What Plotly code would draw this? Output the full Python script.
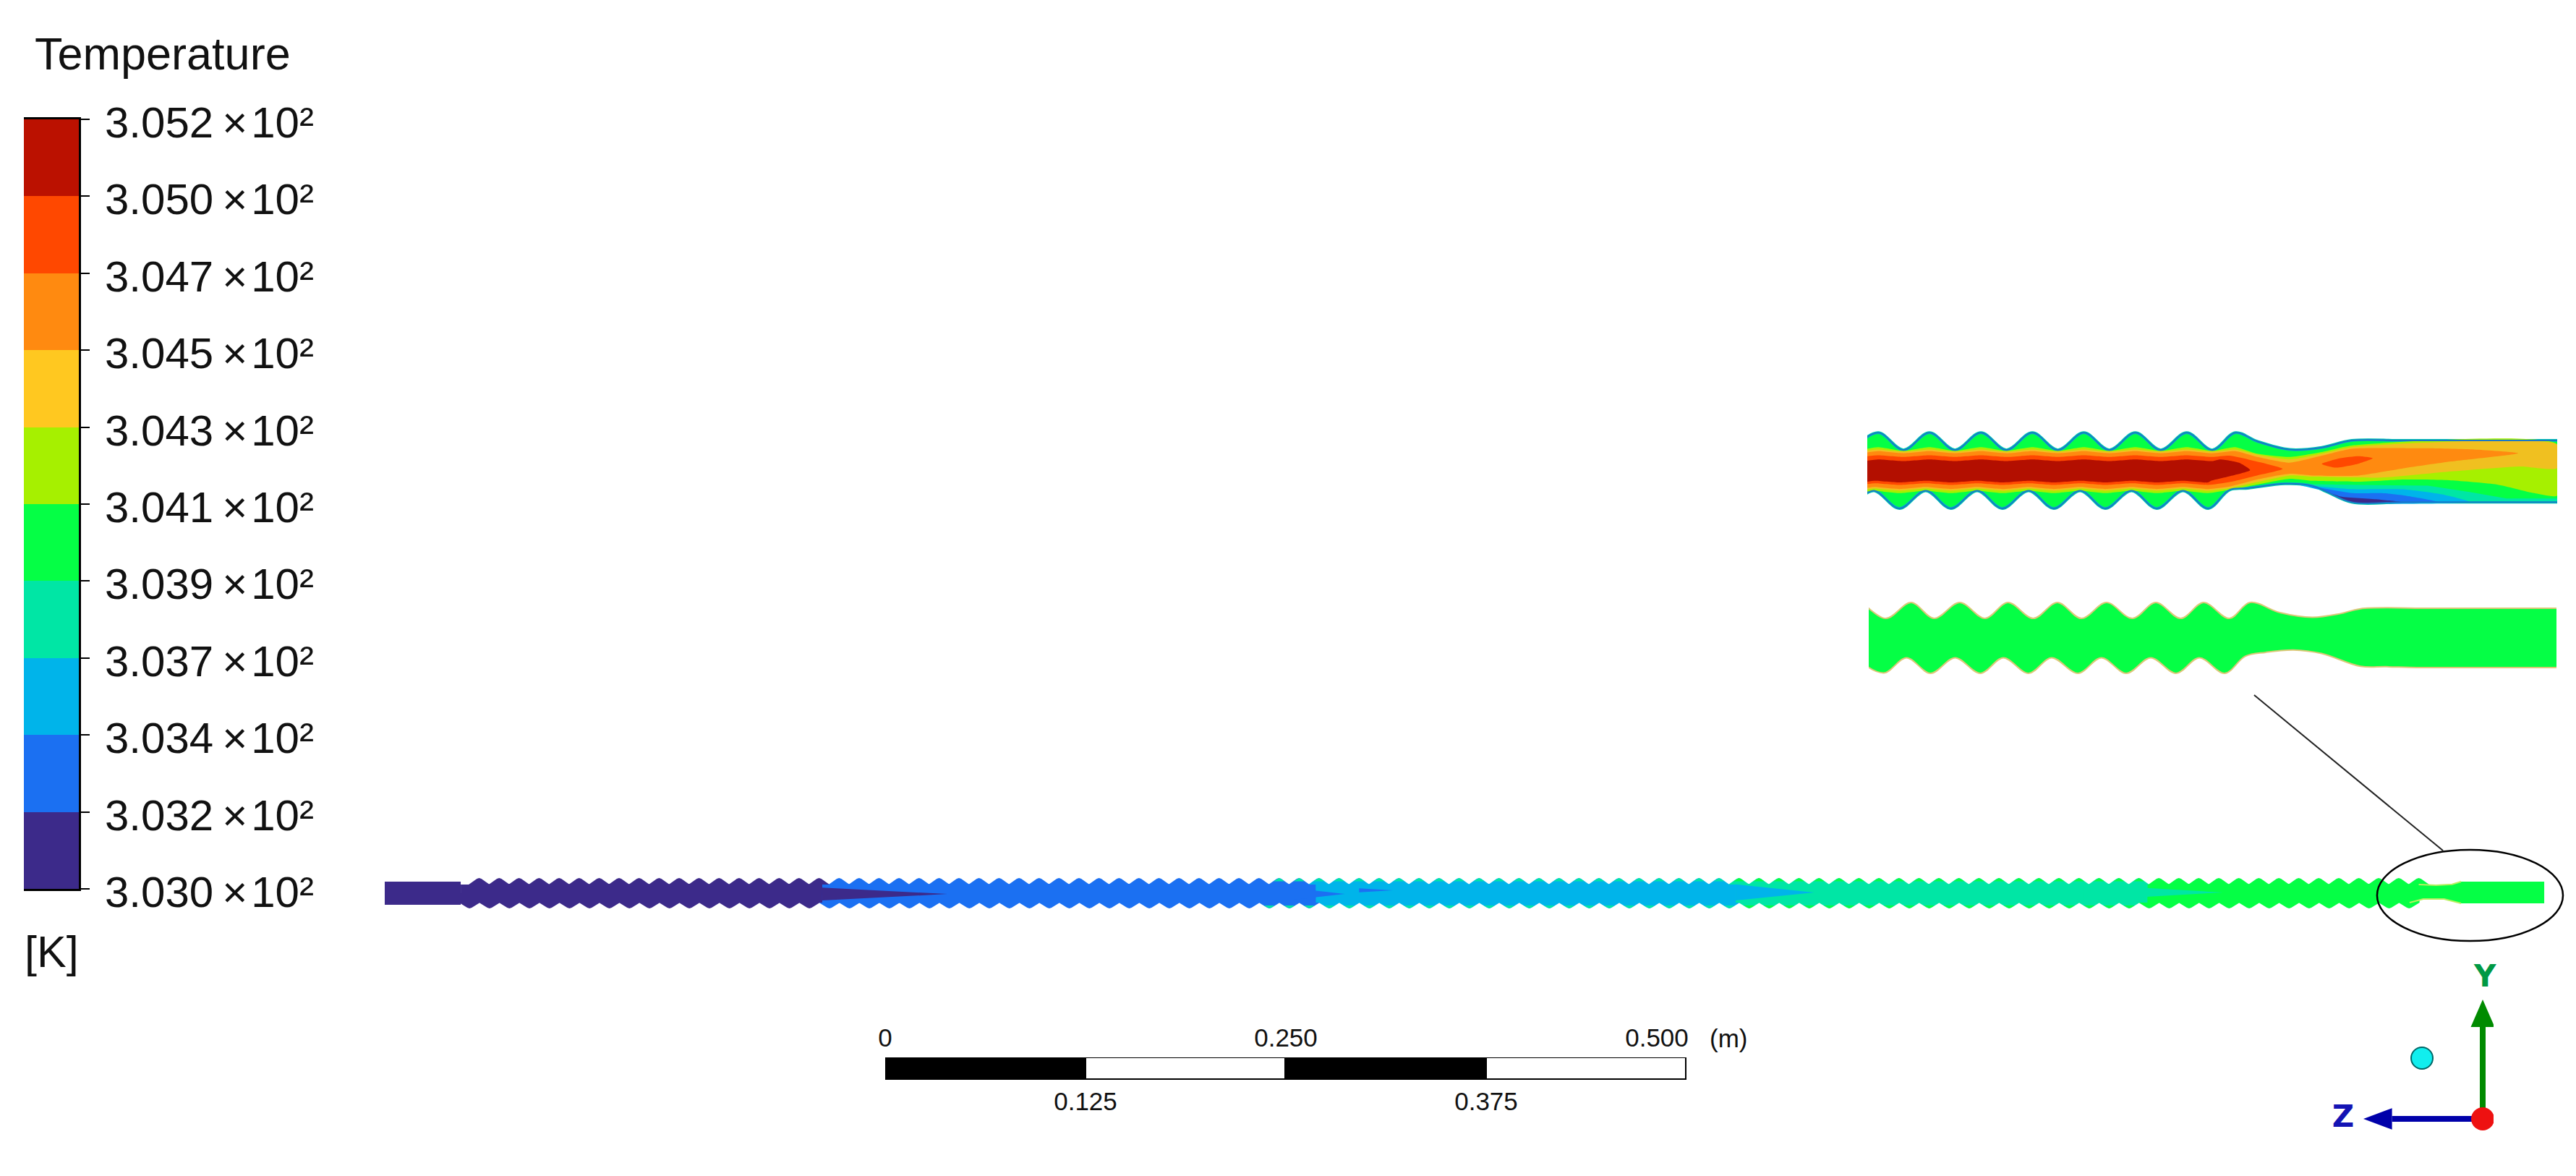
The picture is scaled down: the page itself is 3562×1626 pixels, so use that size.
import plotly.graph_objects as go

W = 3562
H = 1626

# legend bar, bottom to top
level_colors = ["#3C2A8A", "#1B70F2", "#00B4EA", "#00E6A5", "#05FF45",
                "#A6F000", "#FFC820", "#FF8A10", "#FF4800", "#BB1100"]
level_index = [0, 1, 2, 3, 4, 5, 6, 7, 8, 9]
temp_ticks = [0, 1, 2, 3, 4, 5, 6, 7, 8, 9, 10]
temp_labels = ["3.030", "3.032", "3.034", "3.037", "3.039", "3.041",
               "3.043", "3.045", "3.047", "3.050", "3.052"]

# full tube, metres along the axis from the inlet
crest_top = [.0589, .0714, .0838, .0963, .1088, .1213, .1338, .1462, .1587, .1712, .1837, .1961, .2086, .2211,
             .2336, .2461, .2585, .2710, .2835, .2960, .3084, .3209, .3334, .3459, .3583, .3708, .3833, .3958,
             .4083, .4207, .4332, .4457, .4582, .4706, .4831, .4956, .5081, .5206, .5330, .5455, .5580, .5705,
             .5829, .5954, .6079, .6204, .6328, .6453, .6578, .6703, .6828, .6952, .7077, .7202, .7327, .7451,
             .7576, .7701, .7826, .7951, .8075, .8200, .8325, .8450, .8574, .8699, .8824, .8949, .9074, .9198,
             .9323, .9448, .9573, .9697, .9822, .9947, 1.0072, 1.0196, 1.0321, 1.0446, 1.0571, 1.0696, 1.0820,
             1.0945, 1.1070, 1.1195, 1.1319, 1.1444, 1.1569, 1.1694, 1.1819, 1.1943, 1.2068, 1.2193, 1.2318,
             1.2442, 1.2567, 1.2692]
crest_bot = [.0529, .0654, .0778, .0903, .1028, .1153, .1278, .1402, .1527, .1652, .1777, .1901, .2026, .2151,
             .2276, .2401, .2525, .2650, .2775, .2900, .3024, .3149, .3274, .3399, .3523, .3648, .3773, .3898,
             .4023, .4147, .4272, .4397, .4522, .4646, .4771, .4896, .5021, .5146, .5270, .5395, .5520, .5645,
             .5769, .5894, .6019, .6144, .6268, .6393, .6518, .6643, .6768, .6892, .7017, .7142, .7267, .7391,
             .7516, .7641, .7766, .7891, .8015, .8140, .8265, .8390, .8514, .8639, .8764, .8889, .9014, .9138,
             .9263, .9388, .9513, .9637, .9762, .9887, 1.0012, 1.0136, 1.0261, 1.0386, 1.0511, 1.0636, 1.0760,
             1.0885, 1.1010, 1.1135, 1.1259, 1.1384, 1.1509, 1.1634, 1.1759, 1.1883, 1.2008, 1.2133, 1.2258,
             1.2382, 1.2507, 1.2632]
core_zone_end = [.273, .581, .843, 1.10, 1.2692]
core_zone_level = [0, 1, 2, 3, 4]
tip_zone_end = [.273, .55, .843, 1.30]
tip_zone_level = [0, 1, 3, 4]
# wedge = start z, tip z, half width, tip y, level
wedge_start = [.273, .555, .608, .843, 1.06]
wedge_tip = [.351, .599, .629, .892, 1.147]
wedge_half = [.0040, .0050, .0012, .0050, .0050]
wedge_mid = [-.0005, -.0005, .0018, .0005, .0005]
wedge_level = [0, 1, 1, 2, 3]
tail_z = [1.2692, 1.28, 1.29, 1.2956, 1.3475, 1.3475, 1.2956, 1.285, 1.272, 1.2635]
tail_y = [.0054, .0050, .0055, .0072, .0072, -.0063, -.0063, -.0036, -.0036, -.0059]

# upper inset, mm
wall1_z = [-3, 2.6, 8.8, 15.1, 21.3, 27.6, 33.8, 40.1, 46.3, 52.6, 58.8, 65.1, 71.3, 77.6, 83.8, 89.4, 94.7, 102.6,
           110.4, 117.7, 130, 150, 169, 190, 190, 169, 150, 130, 117.7, 111.5, 108.2, 101.5, 92.5, 88.0, 82.8, 76.7,
           70.3, 64.2, 57.8, 51.7, 45.3, 39.2, 32.8, 26.7, 20.3, 14.2, 7.8, 1.7, -3, -3]
wall1_y = [4.6, 9.1, 4.9, 9.1, 4.9, 9.1, 4.9, 9.1, 4.9, 9.1, 4.9, 9.1, 4.9, 9.1, 4.9, 9.1, 7.0, 5.0,
           5.5, 7.2, 7.2, 7.2, 7.2, 7.2, -7.8, -7.8, -7.8, -7.8, -7.8, -5.2, -3.8, -3.3, -4.4, -4.8, -9.3, -5.0,
           -9.3, -5.0, -9.3, -5.0, -9.3, -5.0, -9.3, -5.0, -9.3, -5.0, -9.3, -5.0, -6.8, 4.6]
band_top_z = [0, 2.6, 8.8, 15.1, 21.3, 27.6, 33.8, 40.1, 46.3, 52.6, 58.8, 65.1, 71.3, 77.6, 83.8]
band_bot_z = [0, 1.7, 7.8, 14.2, 20.3, 26.7, 32.8, 39.2, 45.3, 51.7, 57.8, 64.2, 70.3, 76.7, 82.8]

yg_top = [5.2, 5.6, 4.7, 5.6, 4.7, 5.6, 4.7, 5.6, 4.7, 5.6, 4.7, 5.6, 4.7, 5.6, 4.7]
yg_bot = [-5.2, -5.0, -5.6, -5.0, -5.6, -5.0, -5.6, -5.0, -5.6, -5.0, -5.6, -5.0, -5.6, -5.0, -5.6]
yg_tail_z = [89.4, 94.7, 102.6, 110.4, 117.7, 167.6, 167.6, 162.0, 153.0, 141.8, 130.6, 119.4, 108.2, 102.6, 94.7, 88.0]
yg_tail_y = [5.6, 4.0, 3.2, 4.4, 6.0, 6.3, -6.2, -5.6, -3.5, -2.5, -2.3, -2.8, -2.6, -2.1, -3.5, -4.8]

yellow_top = [4.8, 5.0, 4.5, 5.0, 4.5, 5.0, 4.5, 5.0, 4.5, 5.0, 4.5, 5.0, 4.5, 5.0, 4.5]
yellow_bot = [-4.7, -4.5, -5.0, -4.5, -5.0, -4.5, -5.0, -4.5, -5.0, -4.5, -5.0, -4.5, -5.0, -4.5, -5.0]
yellow_tail_z = [89.4, 94.7, 102.6, 110.4, 117.7, 167.6, 167.6, 158.6, 141.8, 125.0, 108.2, 102.6, 94.7, 88.0]
yellow_tail_y = [5.0, 3.8, 2.6, 4.0, 5.6, 6.2, 0.5, 0.9, -0.3, -1.8, -1.6, -1.3, -2.9, -4.4]

orange_top = [4.3, 4.6, 4.1, 4.6, 4.1, 4.6, 4.1, 4.6, 4.1, 4.6, 4.1, 4.6, 4.1, 4.6, 4.1]
orange_bot = [-4.3, -4.1, -4.6, -4.1, -4.6, -4.1, -4.6, -4.1, -4.6, -4.1, -4.6, -4.1, -4.6, -4.1, -4.6]
orange_tail_z = [89.4, 94.7, 102.6, 110.4, 117.7, 136.2, 147.4, 158.1, 141.8, 130.6, 119.4, 108.2, 102.6, 94.7, 88.0]
orange_tail_y = [4.6, 3.2, 1.8, 3.5, 5.2, 5.3, 5.0, 4.1, 2.1, 0.5, -1.3, -1.3, -0.9, -2.3, -4.0]

red_top = [3.4, 3.6, 3.2, 3.6, 3.2, 3.6, 3.2, 3.6, 3.2, 3.6, 3.2, 3.6, 3.2, 3.6, 3.2]
red_bot = [-3.4, -3.2, -3.6, -3.2, -3.6, -3.2, -3.6, -3.2, -3.6, -3.2, -3.6, -3.2, -3.6, -3.2, -3.6]
red_tail_z = [88.0, 92.5, 100.9, 94.7, 88.0]
red_tail_y = [3.5, 2.6, 0.3, -1.3, -2.9]

dark_top = [2.3, 2.6, 2.2, 2.6, 2.2, 2.6, 2.2, 2.6, 2.2, 2.6, 2.2, 2.6, 2.2, 2.6, 2.2]
dark_bot = [-2.8, -2.6, -3.0, -2.6, -3.0, -2.6, -3.0, -2.6, -3.0, -2.6, -3.0, -2.6, -3.0, -2.6, -3.0]
dark_tail_z = [85.8, 90.3, 93.0, 88.0, 83.5]
dark_tail_y = [2.6, 1.8, 0.0, -1.5, -2.6]

blob_z = [110.4, 114.9, 119.4, 122.8, 119.4, 113.8, 110.4]
blob_y = [1.5, 2.9, 3.4, 2.9, 1.6, 0.6, 1.5]
teal_z = [103.7, 117.2, 136.2, 146.3, 155.3, 167.6, 167.6, 117.7, 111.5, 108.2, 103.7]
teal_y = [-3.4, -3.6, -3.8, -5.3, -6.9, -6.9, -7.8, -7.8, -5.2, -3.8, -3.4]
cyan_z = [105.0, 117.7, 130.6, 139.6, 146.3, 117.7, 111.5, 105.0]
cyan_y = [-3.6, -4.6, -4.7, -5.9, -7.7, -7.8, -5.2, -3.6]
blue_z = [107.0, 117.7, 125.0, 130.6, 138.5, 117.7, 111.5, 107.0]
blue_y = [-3.8, -5.6, -5.6, -6.2, -7.7, -7.8, -5.2, -3.8]
indigo_z = [110.0, 115.0, 124.0, 130.0, 117.7, 110.0]
indigo_y = [-4.6, -6.4, -7.1, -7.8, -7.8, -4.6]

# lower inset, mm
wall2_z = [-3, 4.4, 10.9, 16.8, 23.4, 29.9, 35.8, 42.3, 48.5, 54.7, 61.1, 67.8, 73.8, 80.2, 86.1, 92.7, 98.0, 105.7,
           114.0, 121.1, 126.4, 145, 165, 178, 200, 200, 178, 165, 150, 141, 133, 126.4, 116.4, 109.2, 102.1, 96.8,
           91.5, 85.0, 79.0, 72.5, 66.2, 59.8, 53.8, 47.0, 41.1, 34.6, 28.7, 22.2, 15.9, 9.7, 3.8, -3, -3]
wall2_y = [9.1, 5.0, 9.1, 5.0, 9.1, 5.0, 9.1, 5.0, 9.1, 5.0, 9.1, 5.0, 9.1, 5.0, 9.1, 5.0, 9.1, 6.5,
           5.3, 6.2, 7.5, 7.6, 7.6, 7.6, 7.6, -7.6, -7.6, -7.6, -7.6, -7.6, -7.4, -7.3, -4.0, -3.1, -3.7, -4.7,
           -9.1, -5.1, -9.1, -5.1, -9.1, -5.1, -9.1, -5.1, -9.1, -5.1, -9.1, -5.1, -9.1, -5.1, -9.0, -4.5, 9.1]

# scale bar, metres
scale_top_vals = [0, 0.25, 0.4815]
scale_top_text = ["0", "0.250", "0.500"]
scale_bot_vals = [0.125, 0.375]
scale_bot_text = ["0.125", "0.375"]
black_seg = [0.0, 0.25]
white_seg = [0.125, 0.375]
seg_len = [0.125, 0.125]

# triad, unit axis vectors
y_shaft = [0, 0.77]
z_shaft = [0, -0.76]
y_head_x = [0, -0.1, 0.1, 0]
y_head_y = [1, 0.77, 0.77, 1]
z_head_x = [-1, -0.76, -0.76, -1]
z_head_y = [0, 0.09, -0.09, 0]


def level_at(z, ends, levels):
    for end, lev in zip(ends, levels):
        if z <= end:
            return lev
    return levels[-1]


def xdom(a, b):
    return [a / W, b / W]


def ydom(top, bottom):
    return [(H - bottom) / H, (H - top) / H]


fig = go.Figure()


def poly(xs, ys, color, xa="x", ya="y", smooth=False):
    line = dict(width=0, color=color)
    if smooth:
        line = dict(width=0, color=color, shape="spline", smoothing=0.55)
    fig.add_trace(go.Scatter(x=xs, y=ys, mode="lines", fill="toself", fillcolor=color, line=line,
                             xaxis=xa, yaxis=ya, showlegend=False, hoverinfo="skip"))


def stroke(xs, ys, color, width, xa="x", ya="y", smooth=False):
    line = dict(width=width, color=color)
    if smooth:
        line = dict(width=width, color=color, shape="spline", smoothing=1.0)
    fig.add_trace(go.Scatter(x=xs, y=ys, mode="lines", line=line,
                             xaxis=xa, yaxis=ya, showlegend=False, hoverinfo="skip"))


# ---- long tube
TOP_VALLEY, TOP_PEAK = .0054, .0095
BOT_VALLEY, BOT_PEAK = -.0059, -.0095
HALF_PITCH = .0065

groups = {}


def add_tooth(c, valley, peak, base_lev, tip_lev):
    b = groups.setdefault(base_lev, ([], []))
    b[0].extend([c - HALF_PITCH, c - .0014, c, c + .0014, c + HALF_PITCH, c + HALF_PITCH, c - HALF_PITCH, None])
    b[1].extend([valley, peak - (peak - valley) * .12, peak, peak - (peak - valley) * .12, valley, 0, 0, None])
    if tip_lev != base_lev:
        t = groups.setdefault((tip_lev, "tip"), ([], []))
        mid = valley + (peak - valley) * .5
        t[0].extend([c - .0034, c - .0012, c, c + .0012, c + .0034, None])
        t[1].extend([mid, peak - (peak - valley) * .12, peak, peak - (peak - valley) * .12, mid, None])


for c in crest_top:
    add_tooth(c, TOP_VALLEY, TOP_PEAK, level_at(c, core_zone_end, core_zone_level),
              level_at(c, tip_zone_end, tip_zone_level))
for c in crest_bot:
    add_tooth(c, BOT_VALLEY, BOT_PEAK, level_at(c, core_zone_end, core_zone_level),
              level_at(c, tip_zone_end, tip_zone_level))

for key in sorted(groups, key=lambda k: (isinstance(k, tuple), k if isinstance(k, int) else k[0])):
    lev = key if isinstance(key, int) else key[0]
    poly(groups[key][0], groups[key][1], level_colors[lev])

# inlet stub
poly([0, .0474, .0474, 0, 0], [.0072, .0072, -.0072, -.0072, .0072], level_colors[0])

start = .0474
for end, lev in zip(core_zone_end, core_zone_level):
    poly([start, end, end, start, start], [TOP_VALLEY, TOP_VALLEY, BOT_VALLEY, BOT_VALLEY, TOP_VALLEY],
         level_colors[lev])
    start = end

for z0, z1, half, mid, lev in zip(wedge_start, wedge_tip, wedge_half, wedge_mid, wedge_level):
    poly([z0, z1, z0, z0], [mid + half, mid, mid - half, mid + half], level_colors[lev])

poly(tail_z + tail_z[:1], tail_y + tail_y[:1], level_colors[4])
stroke(tail_z[:4], tail_y[:4], "#B8F060", 2)
stroke(tail_z[6:], tail_y[6:], "#B8F060", 2)

# leader line to the insets
stroke([1.1665, 1.2843], [.1236, .0266], "#222222", 2)

# ---- upper inset
fig.add_trace(go.Scatter(x=wall1_z, y=wall1_y, mode="lines", fill="toself", fillcolor=level_colors[4],
                         line=dict(width=4, color="#00C8B0", shape="spline", smoothing=1.0),
                         xaxis="x3", yaxis="y3", showlegend=False, hoverinfo="skip"))

poly(band_top_z + yg_tail_z + band_bot_z[::-1], yg_top + yg_tail_y + yg_bot[::-1], level_colors[5], "x3", "y3", True)
poly(band_top_z + yellow_tail_z + band_bot_z[::-1], yellow_top + yellow_tail_y + yellow_bot[::-1],
     "#F0C020", "x3", "y3", True)
poly(band_top_z + orange_tail_z + band_bot_z[::-1], orange_top + orange_tail_y + orange_bot[::-1],
     level_colors[7], "x3", "y3", True)
poly(band_top_z + red_tail_z + band_bot_z[::-1], red_top + red_tail_y + red_bot[::-1],
     level_colors[8], "x3", "y3", True)
poly(band_top_z + dark_tail_z + band_bot_z[::-1], dark_top + dark_tail_y + dark_bot[::-1],
     "#B30F00", "x3", "y3", True)
poly(blob_z, blob_y, level_colors[8], "x3", "y3", True)
poly(teal_z, teal_y, level_colors[3], "x3", "y3")
poly(cyan_z, cyan_y, level_colors[2], "x3", "y3", True)
poly(blue_z, blue_y, level_colors[1], "x3", "y3", True)
poly(indigo_z, indigo_y, level_colors[0], "x3", "y3", True)
stroke(wall1_z, wall1_y, "#1878C8", 2, "x3", "y3", True)

# ---- lower inset
fig.add_trace(go.Scatter(x=wall2_z, y=wall2_y, mode="lines", fill="toself", fillcolor=level_colors[4],
                         line=dict(width=2, color="#DCC878", shape="spline", smoothing=1.0),
                         xaxis="x4", yaxis="y4", showlegend=False, hoverinfo="skip"))

# ---- temperature legend
fig.add_trace(go.Bar(x=["T"] * 10, y=[1] * 10, base=level_index, marker=dict(color=level_colors, line=dict(width=0)),
                     width=1, xaxis="x2", yaxis="y2", showlegend=False, hoverinfo="skip"))

# ---- triad
stroke([0, 0], y_shaft, "#008B00", 8, "x5", "y5")
stroke(z_shaft, [0, 0], "#0000AA", 8, "x5", "y5")
poly(y_head_x, y_head_y, "#008B00", "x5", "y5")
poly(z_head_x, z_head_y, "#0000AA", "x5", "y5")
fig.add_trace(go.Scatter(x=[0, -0.509], y=[0, 0.509], mode="markers",
                         marker=dict(size=[32, 30], color=["#EE1111", "#11EEEE"], opacity=1,
                                     line=dict(width=[0, 2], color="#006666")),
                         xaxis="x5", yaxis="y5", showlegend=False, hoverinfo="skip"))
fig.add_trace(go.Scatter(x=[0.02, -1.17], y=[1.175, 0], mode="text", text=["Y", "Z"], cliponaxis=False,
                         textfont=dict(family="DejaVu Sans", size=42, weight="bold", color=["#009944", "#1414B4"]),
                         xaxis="x5", yaxis="y5", showlegend=False, hoverinfo="skip"))

# ---- scale bar
fig.add_trace(go.Bar(y=[0, 0], x=seg_len, base=black_seg, orientation="h", width=1,
                     marker=dict(color="black", line=dict(width=3, color="black")),
                     xaxis="x6", yaxis="y6", showlegend=False, hoverinfo="skip"))
fig.add_trace(go.Bar(y=[0, 0], x=seg_len, base=white_seg, orientation="h", width=1,
                     marker=dict(color="white", line=dict(width=3, color="black")),
                     xaxis="x7", yaxis="y6", showlegend=False, hoverinfo="skip"))

hidden = dict(visible=False, fixedrange=True)
font = "Liberation Sans"


def label(text, px, py, size, anchor="left"):
    fig.add_annotation(text=text, x=px / W, y=1 - py / H, xref="paper", yref="paper", showarrow=False,
                       xanchor=anchor, yanchor="middle", font=dict(family=font, size=size, color="#111111"))


label("Temperature", 46, 74, 63)
label("[K]", 32, 1316, 61)
label("(m)", 2362, 1435, 35)

fig.add_shape(type="circle", xref="x", yref="y", x0=1.2432, x1=1.3592, y0=-.0298, y1=.0271,
              line=dict(color="black", width=2.5))

fig.update_layout(
    width=W, height=H, margin=dict(l=0, r=0, t=0, b=0, pad=0, autoexpand=False),
    paper_bgcolor="white", plot_bgcolor="white", barmode="overlay", bargap=0, showlegend=False,
    xaxis=dict(hidden, domain=[0, 1], range=[-532 / 2216, (W - 532) / 2216]),
    yaxis=dict(hidden, domain=[0, 1], range=[-391 / 2216, 1235 / 2216]),
    xaxis2=dict(domain=xdom(33, 109), anchor="y2", range=[-.5, .5], fixedrange=True, showticklabels=False,
                ticks="", showline=True, linecolor="black", linewidth=3, mirror=True, showgrid=False, zeroline=False),
    yaxis2=dict(domain=ydom(165, 1229), anchor="x2", side="right", range=[0, 10], fixedrange=True,
                tickvals=temp_ticks, ticktext=[t + "\u2009×\u200a10²" for t in temp_labels],
                ticks="outside", ticklen=12, tickwidth=2, tickcolor="black", showgrid=False, zeroline=False,
                showline=True, linecolor="black", linewidth=3, ticklabelstandoff=9, ticklabelshift=4,
                tickfont=dict(family=font, size=60, color="#111111")),
    xaxis3=dict(hidden, domain=xdom(2582, 3536), anchor="y3", range=[0, 167.6]),
    yaxis3=dict(hidden, domain=ydom(650 - 60, 650 + 60), anchor="x3", range=[-10.55, 10.55]),
    xaxis4=dict(hidden, domain=xdom(2584, 3535), anchor="y4", range=[0, 176.8]),
    yaxis4=dict(hidden, domain=ydom(882 - 60, 882 + 60), anchor="x4", range=[-11.15, 11.15]),
    xaxis5=dict(hidden, domain=xdom(3220, 3448), anchor="y5", range=[-213 / 165, 15 / 165]),
    yaxis5=dict(hidden, domain=ydom(1340, 1565), anchor="x5", range=[-18 / 165, 207 / 165]),
    xaxis6=dict(domain=xdom(1224, 2332), anchor="y6", side="top", range=[0, 0.5], fixedrange=True,
                tickvals=scale_top_vals, ticktext=scale_top_text, ticks="", showgrid=False, zeroline=False,
                showline=False, ticklabelstandoff=7, tickangle=0,
                tickfont=dict(family=font, size=35, color="#111111")),
    xaxis7=dict(domain=xdom(1224, 2332), anchor="y6", side="bottom", overlaying="x6", range=[0, 0.5], fixedrange=True,
                tickvals=scale_bot_vals, ticktext=scale_bot_text, ticks="", showgrid=False, zeroline=False,
                showline=False, ticklabelstandoff=6, tickangle=0,
                tickfont=dict(family=font, size=35, color="#111111")),
    yaxis6=dict(hidden, domain=ydom(1462, 1493), anchor="x6", range=[-.5, .5]),
)

fig.write_html("out.html", config={"displayModeBar": False},
               post_script="document.body.style.margin='0';")
